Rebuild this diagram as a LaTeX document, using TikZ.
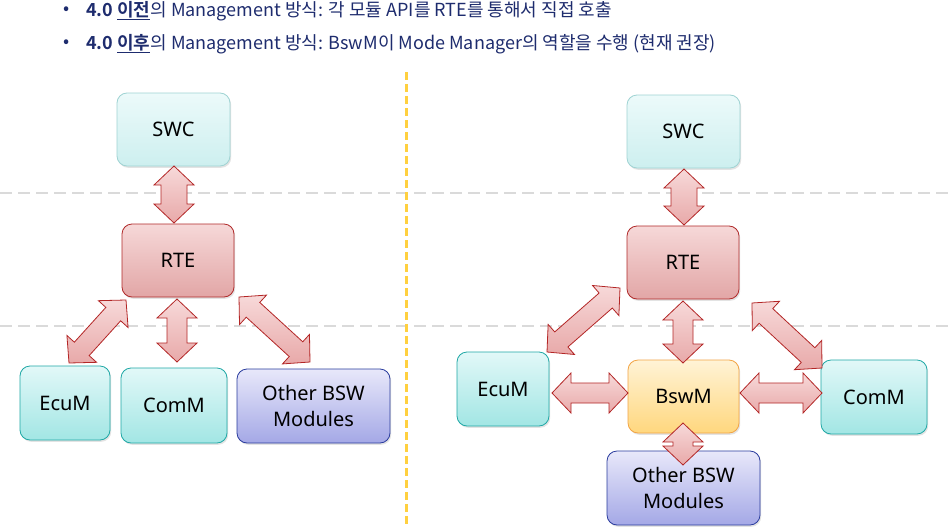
\documentclass[tikz,border=0pt]{standalone}
\usepackage{fontspec}
\setmainfont{Noto Sans}
\newfontfamily\krfont[BoldFont={Noto Sans CJK KR Bold}]{Noto Sans CJK KR}
\usetikzlibrary{calc,shadows}
\definecolor{navy}{HTML}{1E2C6E}
\definecolor{gridgray}{HTML}{DADADA}
\definecolor{divyellow}{HTML}{FFD040}
\definecolor{swcline}{HTML}{9FD3D3}
\definecolor{swctop}{HTML}{ECFAFA}
\definecolor{swcbot}{HTML}{CDEFEF}
\definecolor{rteline}{HTML}{B02A2A}
\definecolor{rtetop}{HTML}{F6D8D8}
\definecolor{rtebot}{HTML}{E2A6A6}
\definecolor{tealline}{HTML}{1FA8A6}
\definecolor{tealtop}{HTML}{E2F8F8}
\definecolor{tealbot}{HTML}{A2E6E4}
\definecolor{blueline}{HTML}{2A3C9E}
\definecolor{bluetop}{HTML}{E8E8FA}
\definecolor{bluebot}{HTML}{A4A8E6}
\definecolor{orline}{HTML}{F2A445}
\definecolor{ortop}{HTML}{FFF3D6}
\definecolor{orbot}{HTML}{FFD77E}
\definecolor{arrline}{HTML}{B32626}
\definecolor{arrtop}{HTML}{F7D9D9}
\definecolor{arrbot}{HTML}{E8A9A9}
\tikzset{
  x=1pt, y=-1pt,
  box/.style={rounded corners=10pt, line width=0.8pt, align=center,
    font=\fontsize{20}{26}\selectfont,
    drop shadow={opacity=0.22, shadow xshift=1.2pt, shadow yshift=-1.8pt}},
  swcbox/.style={box, draw=swcline, top color=swctop, bottom color=swcbot},
  rtebox/.style={box, draw=rteline, top color=rtetop, bottom color=rtebot},
  tealbox/.style={box, draw=tealline, top color=tealtop, bottom color=tealbot},
  bluebox/.style={box, draw=blueline, top color=bluetop, bottom color=bluebot},
  orangebox/.style={box, draw=orline, top color=ortop, bottom color=orbot},
  arr/.style={draw=arrline, line width=0.8pt, top color=arrtop, bottom color=arrbot},
  gridline/.style={gridgray, line width=2.6pt, dash pattern=on 12pt off 6pt},
  divline/.style={divyellow, line width=3pt, dash pattern=on 8pt off 4pt},
  head/.style={anchor=west, text=navy, font=\krfont\fontsize{18}{20}\selectfont, inner sep=0pt},
}
% double block arrow between two named coordinates; #1 = half body width
\newcommand\dblarrow[3][10pt]{%
  \path[arr] let \p1=($(#3)-(#2)$), \n1={veclen(\x1,\y1)}, \n2={atan2(\y1,\x1)} in
    (#2) -- ($(#2)+(\n2:19pt)+({\n2+90}:20pt)$) -- ($(#2)+(\n2:19pt)+({\n2+90}:#1)$)
    -- ($(#2)+(\n2:{\n1-19pt})+({\n2+90}:#1)$) -- ($(#2)+(\n2:{\n1-19pt})+({\n2+90}:20pt)$)
    -- (#3)
    -- ($(#2)+(\n2:{\n1-19pt})+({\n2-90}:20pt)$) -- ($(#2)+(\n2:{\n1-19pt})+({\n2-90}:#1)$)
    -- ($(#2)+(\n2:19pt)+({\n2-90}:#1)$) -- ($(#2)+(\n2:19pt)+({\n2-90}:20pt)$) -- cycle;
}
\begin{document}
\begin{tikzpicture}
\useasboundingbox (0,0) rectangle (950,530);
\fill[white] (0,0) rectangle (950,530);

% header
\node[head] (b1) at (63,11) {•};
\node[head] (t1) at (86,11) {\textbf{4.0 \underline{이전}}의 Management 방식: 각 모듈 API를 RTE를 통해서 직접 호출};
\node[head] (b2) at (63,44) {•};
\node[head] (t2) at (86,44) {\textbf{4.0 \underline{이후}}의 Management 방식: BswM이 Mode Manager의 역할을 수행 (현재 권장)};

% guide lines
\coordinate (g1a) at (0,193); \coordinate (g1b) at (950,193);
\coordinate (g2a) at (0,326); \coordinate (g2b) at (950,326);
\coordinate (dva) at (406,72); \coordinate (dvb) at (406,525);
\draw[gridline] (g1a) -- (g1b);
\draw[gridline] (g2a) -- (g2b);
\draw[divline] (dva) -- (dvb);

% left panel
\node[swcbox, minimum width=113pt, minimum height=73pt] (swcL) at (173.5,129.5) {SWC};
\node[rtebox, minimum width=112pt, minimum height=73pt] (rteL) at (178,260.5) {RTE};
\node[tealbox, minimum width=90pt, minimum height=74pt] (ecuL) at (65,403) {EcuM};
\node[tealbox, minimum width=106pt, minimum height=75pt] (comL) at (174,405.5) {ComM};
\node[bluebox, minimum width=153pt, minimum height=74pt] (othL) at (313.5,406) {Other BSW\\Modules};

\coordinate (l1a) at (174,166); \coordinate (l1b) at (174,223);
\coordinate (l2a) at (126,300); \coordinate (l2b) at (69,363);
\coordinate (l3a) at (177,299); \coordinate (l3b) at (177,362);
\coordinate (l4a) at (239,297); \coordinate (l4b) at (310,362);
\dblarrow[13pt]{l1a}{l1b}
\dblarrow{l2a}{l2b}
\dblarrow{l3a}{l3b}
\dblarrow{l4a}{l4b}

% right panel
\node[swcbox, minimum width=113pt, minimum height=73pt] (swcR) at (683.5,131.5) {SWC};
\node[rtebox, minimum width=112pt, minimum height=73pt] (rteR) at (683,262.5) {RTE};
\node[tealbox, minimum width=92pt, minimum height=74pt] (ecuR) at (503,389) {EcuM};
\node[tealbox, minimum width=106pt, minimum height=74pt] (comR) at (874,397) {ComM};
\node[bluebox, minimum width=153pt, minimum height=74pt] (othR) at (683.5,488) {Other BSW\\Modules};
\node[orangebox, minimum width=111pt, minimum height=73pt] (bswR) at (683.5,396.5) {BswM};

\coordinate (r1a) at (684,169); \coordinate (r1b) at (684,225);
\coordinate (r2a) at (683,301); \coordinate (r2b) at (683,363);
\coordinate (r3a) at (620,288); \coordinate (r3b) at (547,352);
\coordinate (r4a) at (752,303); \coordinate (r4b) at (822,368);
\coordinate (r5a) at (552,393); \coordinate (r5b) at (628,393);
\coordinate (r6a) at (740,393); \coordinate (r6b) at (822,393);
\coordinate (r7a) at (683,423); \coordinate (r7b) at (683,465);
\dblarrow[13pt]{r1a}{r1b}
\dblarrow{r2a}{r2b}
\dblarrow{r3a}{r3b}
\dblarrow{r4a}{r4b}
\dblarrow{r5a}{r5b}
\dblarrow{r6a}{r6b}
\dblarrow{r7a}{r7b}
\end{tikzpicture}
\end{document}
